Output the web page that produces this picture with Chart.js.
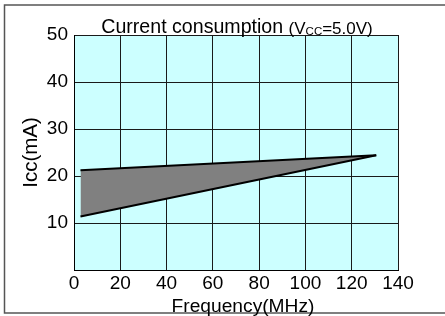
<!DOCTYPE html>
<html>
<head>
<meta charset="utf-8">
<script src="https://cdn.jsdelivr.net/npm/chart.js@4"></script>
<style>
  html, body { margin: 0; padding: 0; background: #fff; }
  #wrap { width: 445px; height: 316px; position: relative; }
</style>
</head>
<body>
<div id="wrap"><canvas id="c" width="445" height="316"></canvas></div>
<script>
// ---- data ----
const freqMHz = [2.8, 130.6];
const iccMax = [21.2, 24.4];
const iccMin = [11.4, 24.4];
const xTicks = [0, 20, 40, 60, 80, 100, 120, 140];
const yTicks = [10, 20, 30, 40, 50];
const titleMain = 'Current consumption ';
const titleCond = ['(V', 'CC', '=5.0V)'];
const xTitle = 'Frequency(MHz)';
const yTitle = 'Icc(mA)';

const FONT = '"Liberation Sans", Arial, sans-serif';

const upperPts = freqMHz.map((f, i) => ({ x: f, y: iccMax[i] }));
const lowerPts = freqMHz.map((f, i) => ({ x: f, y: iccMin[i] }));

const decor = {
  id: 'decor',
  beforeDraw(chart) {
    const { ctx, chartArea: a } = chart;
    ctx.save();
    ctx.fillStyle = '#fff';
    ctx.fillRect(0, 0, chart.width, chart.height);
    ctx.fillStyle = '#CCFFFF';
    ctx.fillRect(a.left, a.top, a.right - a.left, a.bottom - a.top);
    ctx.strokeStyle = '#555';
    ctx.lineWidth = 1.5;
    ctx.strokeRect(4.5, 5, 460, 308);
    ctx.restore();
  },
  afterDraw(chart) {
    const { ctx, chartArea: a } = chart;
    ctx.save();
    ctx.fillStyle = '#000';
    ctx.textBaseline = 'alphabetic';
    const fMain = '19.6px ' + FONT, fMid = '17px ' + FONT, fSub = '11.5px ' + FONT;
    ctx.font = fMain; const w0 = ctx.measureText(titleMain).width;
    ctx.font = fMid; const w1 = ctx.measureText(titleCond[0]).width;
    ctx.font = fSub; const w2 = ctx.measureText(titleCond[1]).width;
    ctx.font = fMid; const w3 = ctx.measureText(titleCond[2]).width;
    const total = w0 + w1 + w2 + w3;
    let x = 237 - total / 2;
    const base = 32.7;
    ctx.font = fMain; ctx.fillText(titleMain, x, base); x += w0;
    ctx.font = fMid; ctx.fillText(titleCond[0], x, base + 1.5); x += w1;
    ctx.font = fSub; ctx.fillText(titleCond[1], x, base + 2); x += w2;
    ctx.font = fMid; ctx.fillText(titleCond[2], x, base + 1.5);
    // x axis title
    ctx.font = '19.2px ' + FONT;
    ctx.textAlign = 'center';
    ctx.fillText(xTitle, 243, 311.7);
    ctx.restore();
  }
};

new Chart(document.getElementById('c'), {
  type: 'line',
  data: {
    datasets: [
      { label: 'max', data: upperPts, borderColor: '#000', borderWidth: 2, pointRadius: 0, fill: false, tension: 0 },
      { label: 'min', data: lowerPts, borderColor: '#000', borderWidth: 2, pointRadius: 0, fill: '-1', backgroundColor: '#808080', tension: 0 }
    ]
  },
  options: {
    responsive: false,
    animation: false,
    events: [],
    layout: { padding: { top: 35, right: 47, left: 0, bottom: 0 } },
    plugins: { legend: { display: false }, tooltip: { enabled: false }, title: { display: false } },
    scales: {
      x: {
        type: 'linear', min: 0, max: 140,
        afterBuildTicks(s) { s.ticks = xTicks.map(v => ({ value: v })); },
        afterFit(s) { s.height = 46; },
        ticks: { color: '#000', font: { family: FONT, size: 19 }, padding: 2, maxRotation: 0, autoSkip: false },
        grid: { color: '#1a1a1a', lineWidth: 1, drawTicks: false },
        border: { color: '#000', width: 1 },
        title: { display: false }
      },
      y: {
        type: 'linear', min: 0, max: 50,
        afterBuildTicks(s) { s.ticks = [0].concat(yTicks).map(v => ({ value: v })); },
        afterFit(s) { s.width = 74; },
        ticks: { color: '#000', font: { family: FONT, size: 19 }, padding: 6, callback: v => (v === 0 ? '' : String(v)) },
        grid: { color: '#1a1a1a', lineWidth: 1, drawTicks: false },
        border: { color: '#000', width: 1 },
        title: { display: true, text: yTitle, color: '#000', font: { family: FONT, size: 20.5 }, padding: { top: 19.5, bottom: 0 } }
      }
    }
  },
  plugins: [decor]
});
</script>
</body>
</html>
